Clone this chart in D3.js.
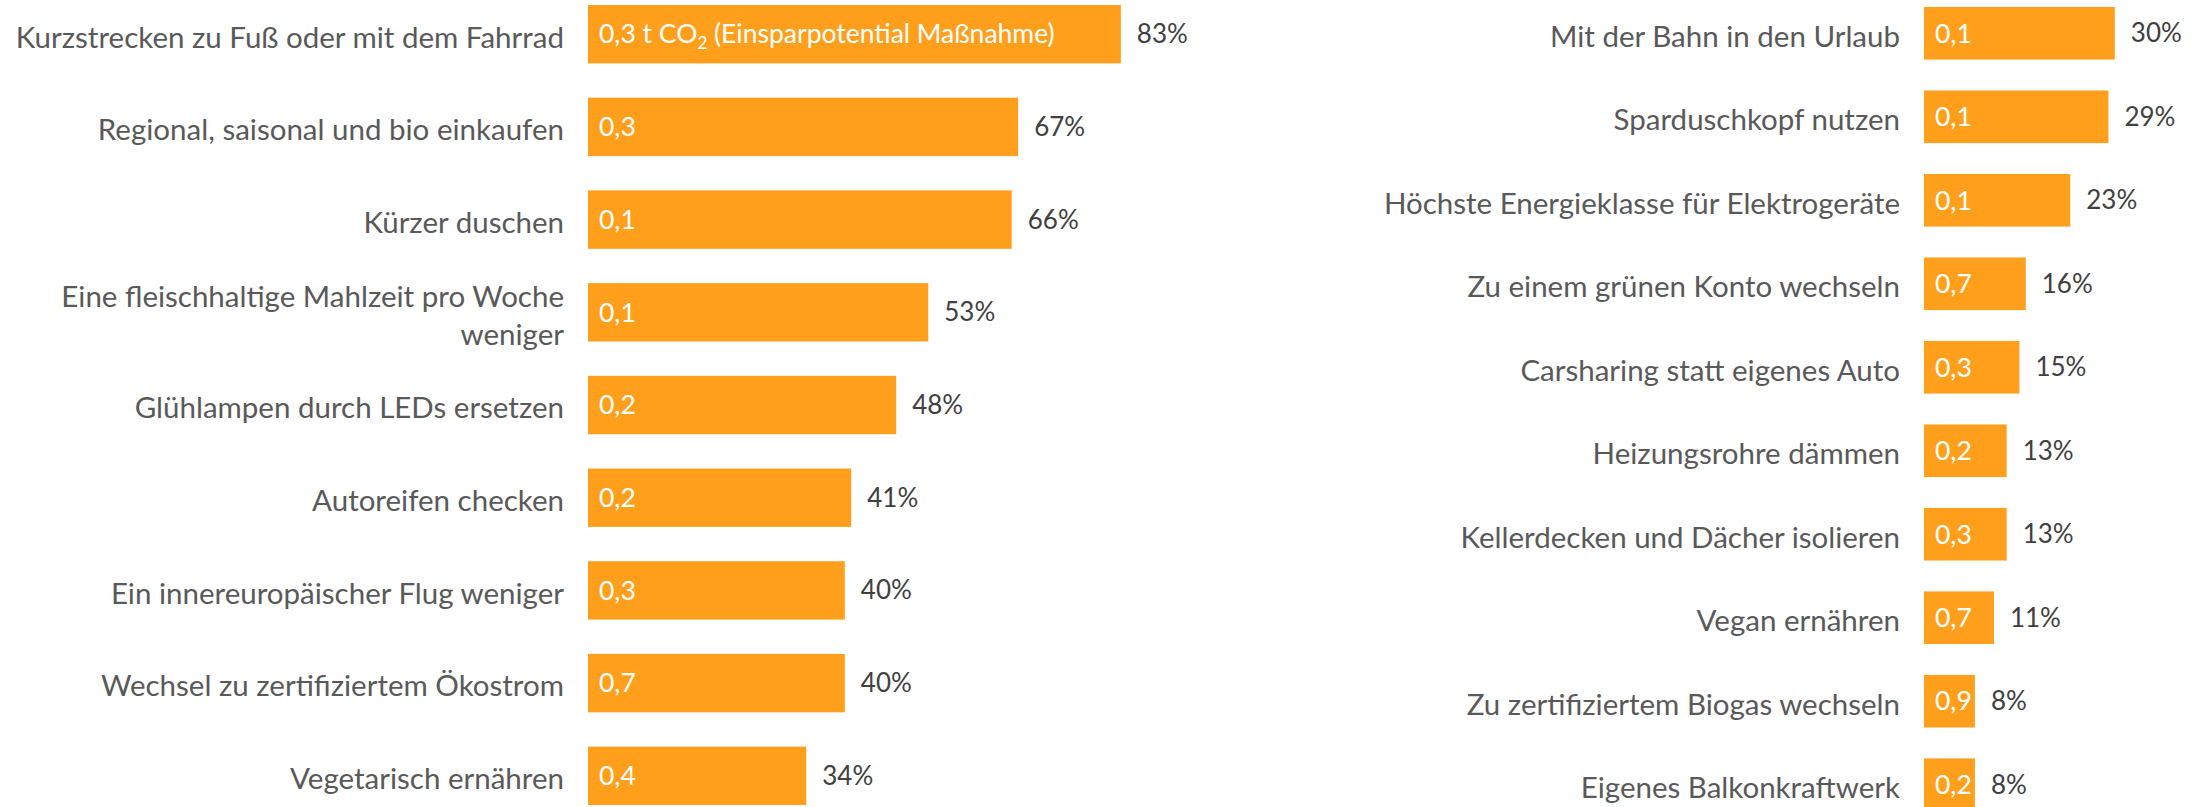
<!DOCTYPE html>
<html>
<head>
<meta charset="utf-8">
<script src="https://cdn.jsdelivr.net/npm/d3@7"></script>
<style>
  body { margin: 0; background: #fff; }
  text { font-family: Lato, "Open Sans", sans-serif; }
</style>
</head>
<body>
<div id="container"></div>
<script>
// left column
let leftLabels = [
  "Kurzstrecken zu Fuß oder mit dem Fahrrad",
  "Regional, saisonal und bio einkaufen",
  "Kürzer duschen",
  "Eine fleischhaltige Mahlzeit pro Woche\nweniger",
  "Glühlampen durch LEDs ersetzen",
  "Autoreifen checken",
  "Ein innereuropäischer Flug weniger",
  "Wechsel zu zertifiziertem Ökostrom",
  "Vegetarisch ernähren"
];
let leftShare = [83, 67, 66, 53, 48, 41, 40, 40, 34];
let leftSaving = ["0,3", "0,3", "0,1", "0,1", "0,2", "0,2", "0,3", "0,7", "0,4"];

// right column
let rightLabels = [
  "Mit der Bahn in den Urlaub",
  "Sparduschkopf nutzen",
  "Höchste Energieklasse für Elektrogeräte",
  "Zu einem grünen Konto wechseln",
  "Carsharing statt eigenes Auto",
  "Heizungsrohre dämmen",
  "Kellerdecken und Dächer isolieren",
  "Vegan ernähren",
  "Zu zertifiziertem Biogas wechseln",
  "Eigenes Balkonkraftwerk"
];
let rightShare = [30, 29, 23, 16, 15, 13, 13, 11, 8, 8];
let rightSaving = ["0,1", "0,1", "0,1", "0,7", "0,3", "0,2", "0,3", "0,7", "0,9", "0,2"];

let w = 2200;
let h = 807;
let orange = "#FF9F1C";

let viz = d3.select("#container")
  .append("svg")
    .attr("width", w)
    .attr("height", h)
    .style("background-color", "#ffffff")
;

function drawPanel(labels, share, saving, opt){
  let data = labels.map((d, i) => ({label: d, share: share[i], saving: saving[i], i: i}));

  let x = d3.scaleLinear().domain([0, 100]).range([opt.x0, opt.x0 + opt.pxPer100]);
  let y = d3.scaleBand()
      .domain(d3.range(labels.length))
      .range([opt.top, opt.bottom])
      .paddingInner(0.37)
      .paddingOuter(0)
  ;

  let g = viz.append("g").attr("class", "panel");

  let rows = g.selectAll(".row").data(data).enter()
    .append("g")
      .attr("class", "row")
  ;

  rows.append("rect")
      .attr("x", x(0))
      .attr("y", d => y(d.i))
      .attr("width", d => x(d.share) - x(0))
      .attr("height", y.bandwidth())
      .attr("fill", orange)
  ;

  // category label, right aligned, may have two lines
  let lab = rows.append("text")
      .attr("x", opt.labelRight)
      .attr("text-anchor", "end")
      .attr("fill", "#595959")
      .style("font-size", "29.5px")
  ;
  lab.each(function(d){
    let lines = d.label.split("\n");
    let cy = y(d.i) + y.bandwidth() / 2;
    let lh = 38;
    lines.forEach((l, k) => {
      d3.select(this).append("tspan")
          .attr("x", opt.labelRight)
          .attr("y", cy + (k - (lines.length - 1) / 2) * lh + 3)
          .attr("dy", "0.35em")
          .text(l);
    });
  });

  // saving label inside bar
  let inner = rows.append("text")
      .attr("x", x(0) + 11)
      .attr("y", d => y(d.i) + y.bandwidth() / 2)
      .attr("dy", "0.35em")
      .attr("fill", "white")
      .style("font-size", "26.5px")
  ;
  inner.each(function(d){
    let t = d3.select(this);
    if (d.i == 0 && opt.unit) {
      t.append("tspan").text(d.saving + " t CO");
      t.append("tspan").attr("dy", "0.35em").style("font-size", "17px").text("2");
      t.append("tspan").attr("dy", "-0.25em").text(" (Einsparpotential Maßnahme)");
    } else {
      t.text(d.saving);
    }
  });

  rows.append("text")
      .attr("x", d => x(d.share) + 16)
      .attr("y", d => y(d.i) + y.bandwidth() / 2)
      .attr("dy", "0.35em")
      .attr("fill", "#404040")
      .style("font-size", "26px")
      .text(d => d.share + "%")
  ;
}

drawPanel(leftLabels, leftShare, leftSaving,
  {x0: 588, pxPer100: 642, top: 5, bottom: 805, labelRight: 564, unit: true});

drawPanel(rightLabels, rightShare, rightSaving,
  {x0: 1924, pxPer100: 636, top: 7, bottom: 811, labelRight: 1900, unit: false});
</script>
</body>
</html>
